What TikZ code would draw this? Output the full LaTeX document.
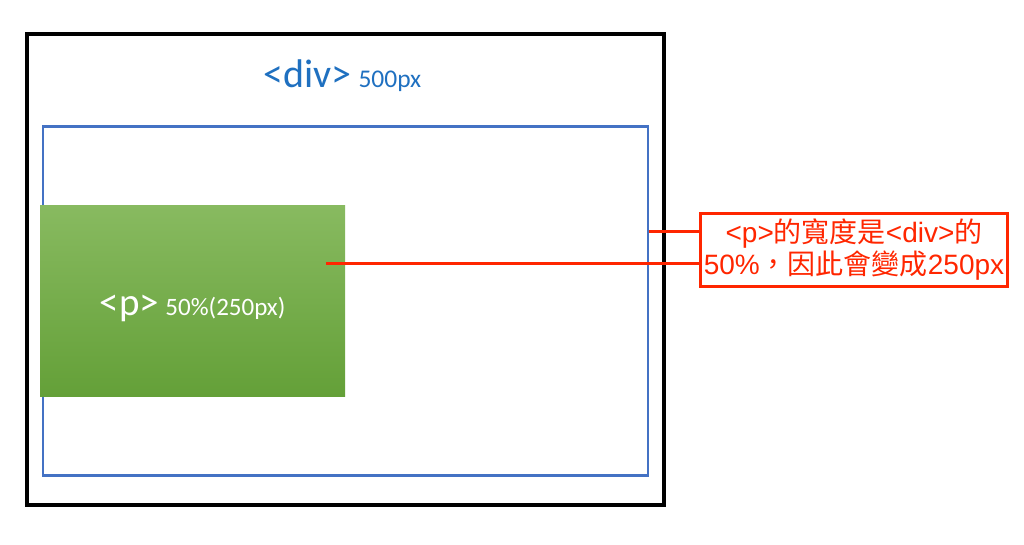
\documentclass[tikz,border=0pt]{standalone}
\usepackage{fontspec}
\usepackage{xcolor}
\usepackage{tikz}
\setmainfont{Carlito}
\newfontfamily\arial{Liberation Sans}
\newfontfamily\cjk{Noto Sans CJK TC}
\newcommand{\zh}[1]{{\cjk #1}}

\definecolor{divblue}{RGB}{31,112,192}
\definecolor{boxblue}{RGB}{68,114,196}
\definecolor{notered}{RGB}{255,38,0}
\definecolor{greentop}{RGB}{136,186,96}
\definecolor{greenbottom}{RGB}{100,160,56}

\begin{document}
\begin{tikzpicture}[x=1pt, y=-1pt,
    box/.style={inner sep=0pt, anchor=north west},
    link/.style={draw=notered, line width=3pt}]
    \useasboundingbox (0,0) rectangle (1024,545);

    % Outer div
    \node[box, draw=black, line width=4pt, minimum width=637pt, minimum height=471pt] (outer) at (25,32) {};
    \node[anchor=base, text=divblue] (divlabel) at (342.5,88)
        {\fontsize{40}{40}\selectfont <div>\,\fontsize{25.5}{25.5}\selectfont 500px};

    % Inner area
    \node[box, draw=boxblue, line width=2.5pt, minimum width=605pt, minimum height=348.5pt] (inner) at (41.5,125.5) {};

    % Paragraph
    \node[box, top color=greentop, bottom color=greenbottom, minimum width=305pt, minimum height=191pt] (para) at (40,205) {};
    \node[anchor=base, text=white] (plabel) at (192.5,315)
        {\fontsize{39}{39}\selectfont <p>\,\fontsize{25}{25}\selectfont 50\%(250px)};

    % Note
    \node[box, draw=notered, fill=white, line width=3pt, minimum width=307pt, minimum height=73pt,
        text=notered, align=center, font=\arial\fontsize{28}{32}\selectfont] (note) at (699,212)
        {<p>\zh{的寬度是}<div>\zh{的}\\50\%\zh{，因此會變成}250px};

    % Links
    \coordinate (edge) at (inner.east |- 0,232);
    \coordinate (pin) at (326,263);
    \draw[link] (edge) -- (edge -| note.west);
    \draw[link] (pin) -- (pin -| note.west);
\end{tikzpicture}
\end{document}
